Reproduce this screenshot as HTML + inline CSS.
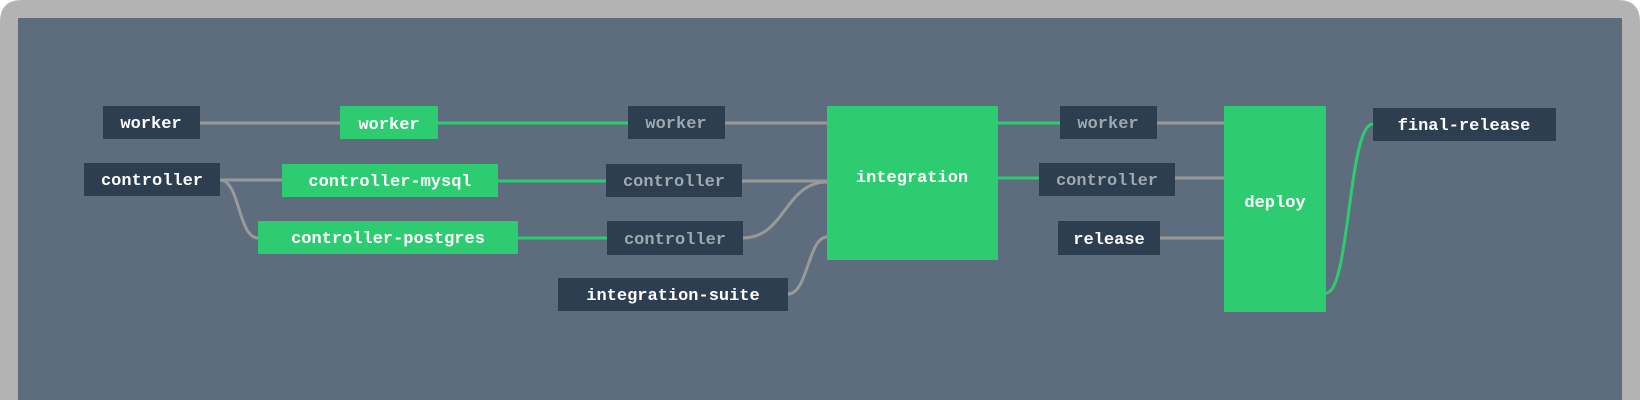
<!DOCTYPE html>
<html><head><meta charset="utf-8"><style>
html,body{margin:0;padding:0;background:#fff;width:1640px;height:400px;overflow:hidden}
svg{display:block}
</style></head><body>
<svg width="1640" height="400" xmlns="http://www.w3.org/2000/svg" font-family="Liberation Mono, monospace" font-weight="bold" font-size="17">
<path d="M0 400 V22 Q0 0 22 0 H1618 Q1640 0 1640 22 V400 Z" fill="#b3b3b3"/>
<rect x="18" y="18" width="1604" height="382" fill="#5d6d7e"/>
<g fill="none" stroke-width="3">
<path d="M200 123 H340" stroke="#999"/>
<path d="M438 123 H628" stroke="#2ecc71"/>
<path d="M725 123 H827" stroke="#999"/>
<path d="M220 180 H282" stroke="#999"/>
<path d="M220 180 C240 180 238 238 258 238" stroke="#999"/>
<path d="M498 181 H606" stroke="#2ecc71"/>
<path d="M518 238 H607" stroke="#2ecc71"/>
<path d="M742 181 H827" stroke="#999"/>
<path d="M743 238 C785 238 785 182 827 182" stroke="#999"/>
<path d="M788 294 C808 294 808 237 827 237" stroke="#999"/>
<path d="M998 123 H1060" stroke="#2ecc71"/>
<path d="M1157 123 H1224" stroke="#999"/>
<path d="M998 178 H1039" stroke="#2ecc71"/>
<path d="M1175 178 H1224" stroke="#999"/>
<path d="M1160 238 H1224" stroke="#999"/>
<path d="M1326 293 C1350 293 1348 124 1373 124" stroke="#2ecc71"/>
</g>
<g>
<rect x="103" y="106" width="97" height="33" fill="#2c3e50"/>
<rect x="340" y="106" width="98" height="33" fill="#2ecc71"/>
<rect x="628" y="106" width="97" height="33" fill="#2c3e50"/>
<rect x="84" y="163" width="136" height="33" fill="#2c3e50"/>
<rect x="282" y="164" width="216" height="33" fill="#2ecc71"/>
<rect x="606" y="164" width="136" height="33" fill="#2c3e50"/>
<rect x="258" y="221" width="260" height="33" fill="#2ecc71"/>
<rect x="607" y="221" width="136" height="34" fill="#2c3e50"/>
<rect x="558" y="278" width="230" height="33" fill="#2c3e50"/>
<rect x="827" y="106" width="171" height="154" fill="#2ecc71"/>
<rect x="1060" y="106" width="97" height="33" fill="#2c3e50"/>
<rect x="1039" y="163" width="136" height="33" fill="#2c3e50"/>
<rect x="1058" y="221" width="102" height="34" fill="#2c3e50"/>
<rect x="1224" y="106" width="102" height="206" fill="#2ecc71"/>
<rect x="1373" y="108" width="183" height="33" fill="#2c3e50"/>
</g>
<g text-anchor="middle" fill="#fff">
<text x="151" y="128">worker</text>
<text x="389" y="129">worker</text>
<text x="676" y="128" fill="#a0a8b0">worker</text>
<text x="152" y="185">controller</text>
<text x="390" y="186">controller-mysql</text>
<text x="674" y="186" fill="#a0a8b0">controller</text>
<text x="388" y="243">controller-postgres</text>
<text x="675" y="244" fill="#a0a8b0">controller</text>
<text x="673" y="300">integration-suite</text>
<text x="912" y="182">integration</text>
<text x="1108" y="128" fill="#a0a8b0">worker</text>
<text x="1107" y="185" fill="#a0a8b0">controller</text>
<text x="1109" y="244">release</text>
<text x="1275" y="207">deploy</text>
<text x="1464" y="130">final-release</text>
</g>
</svg>
</body></html>
